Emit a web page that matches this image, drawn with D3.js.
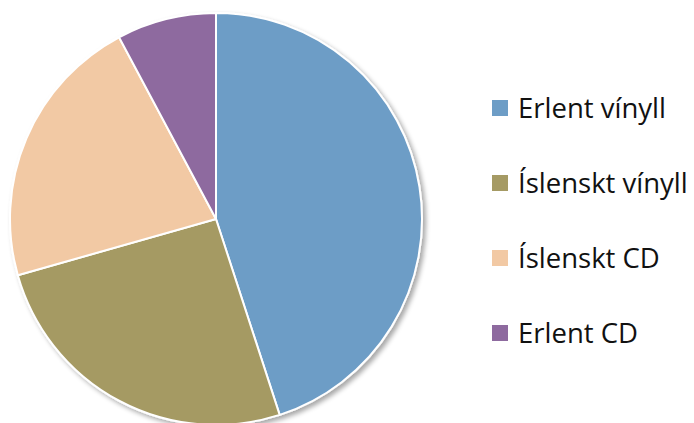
<!DOCTYPE html>
<html><head><meta charset="utf-8">
<script src="https://cdn.jsdelivr.net/npm/d3@7"></script>
<style>body{margin:0;background:#fff;}svg{display:block;}</style>
</head><body>
<script>
const categories = ["Erlent vínyll", "Íslenskt vínyll", "Íslenskt CD", "Erlent CD"];
const values = [45.0, 25.6, 21.6, 7.8];
const colors = ["#6d9dc6", "#a59a64", "#f2c9a4", "#8e6a9f"];

const W = 694, H = 423;
const svg = d3.select("body").append("svg").attr("width", W).attr("height", H);
const defs = svg.append("defs");
const f = defs.append("filter").attr("id", "sh").attr("x", "-10%").attr("y", "-10%").attr("width", "120%").attr("height", "120%");
f.append("feGaussianBlur").attr("in", "SourceAlpha").attr("stdDeviation", 2.5);
f.append("feOffset").attr("dx", 3).attr("dy", 3).attr("result", "b");
f.append("feComponentTransfer").append("feFuncA").attr("type", "linear").attr("slope", 0.35);
const m = f.append("feMerge");
m.append("feMergeNode");
m.append("feMergeNode").attr("in", "SourceGraphic");

const cx = 216, cy = 219, r = 206;
const pie = d3.pie().sort(null).value(d => d)(values);
const arc = d3.arc().innerRadius(0).outerRadius(r);
const g = svg.append("g").attr("transform", `translate(${cx},${cy})`).attr("filter", "url(#sh)");
g.selectAll("path").data(pie).join("path")
  .attr("d", arc).attr("fill", (d, i) => colors[i])
  .attr("stroke", "#fff").attr("stroke-width", 2).attr("stroke-linejoin", "round");

const color = d3.scaleOrdinal().domain(categories).range(colors);
const ly = d3.scalePoint().domain(categories).range([108, 333]);
const lg = svg.append("g");
const items = lg.selectAll("g").data(categories).join("g")
  .attr("transform", d => `translate(492,${ly(d)})`);
items.append("rect").attr("x", 0).attr("y", -8).attr("width", 16).attr("height", 16).attr("fill", d => color(d));
items.append("text").attr("x", 26).attr("y", 0).attr("dy", "0.36em")
  .attr("font-family", "'Open Sans', sans-serif").attr("font-size", 27.5)
  .attr("fill", "#111").text(d => d);
</script>
</body></html>
